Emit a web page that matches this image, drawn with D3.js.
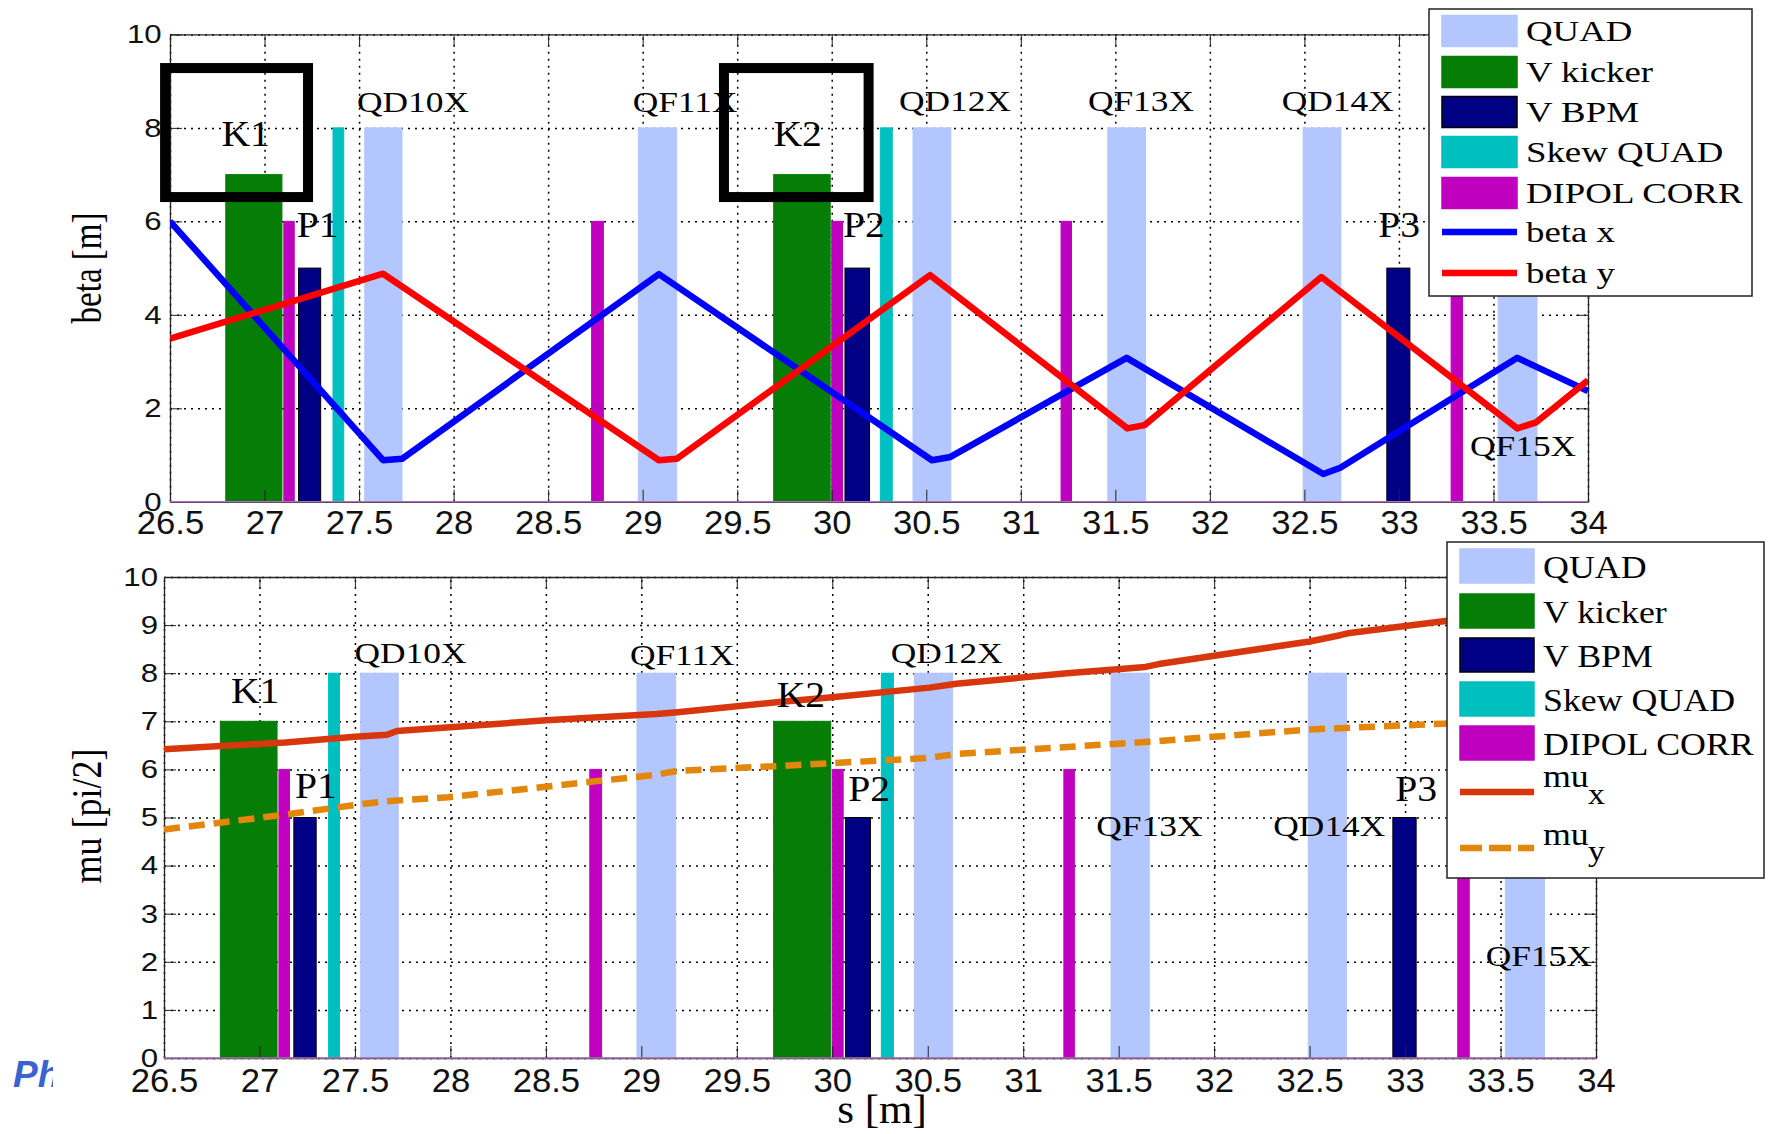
<!DOCTYPE html>
<html>
<head>
<meta charset="utf-8">
<script src="https://cdn.jsdelivr.net/npm/d3@7/dist/d3.min.js"></script>
<style>
  body { margin: 0; background: #fff; }
</style>
</head>
<body>
<svg id="chart" width="1772" height="1134"></svg>
<script>
// lattice elements, [start, end] along s [m]
var quadPos   = [[27.53, 27.727], [28.977, 29.18], [30.43, 30.63], [31.46, 31.66], [32.493, 32.693], [33.525, 33.73]];
var kickerPos = [[26.795, 27.092], [29.693, 29.992]];
var bpmPos    = [[27.18, 27.297], [30.07, 30.2], [32.936, 33.058]];
var skewPos   = [[27.362, 27.419], [30.257, 30.32]];
var dipolPos  = [[27.102, 27.157], [28.73, 28.792], [30.0, 30.057], [31.213, 31.268], [33.276, 33.336]];
var quadH = 8, kickerH = 7, bpmH = 5, skewH = 8, dipolH = 6;

// beta functions (top)
var betaXs = [26.5, 27.627, 27.727, 29.086, 30.53, 30.628, 31.56, 32.6, 32.69, 33.626, 34.0];
var betaX  = [6.0, 0.89, 0.92, 4.87, 0.89, 0.96, 3.08, 0.595, 0.73, 3.08, 2.37];
var betaYs = [26.5, 27.627, 29.086, 29.18, 30.52, 31.564, 31.654, 32.59, 33.626, 33.726, 34.0];
var betaY  = [3.49, 4.88, 0.89, 0.92, 4.85, 1.57, 1.64, 4.81, 1.57, 1.70, 2.6];

// phase advance (bottom)
var muXs = [26.5, 27.135, 27.5, 27.668, 27.72, 28.5, 29.08, 29.19, 29.72, 30.0, 30.51, 30.65, 31.23, 31.64, 31.71, 32.5, 32.66, 32.7, 33.2, 34.0];
var muX  = [6.42, 6.56, 6.68, 6.72, 6.80, 7.02, 7.15, 7.19, 7.40, 7.50, 7.70, 7.78, 8.0, 8.13, 8.19, 8.66, 8.79, 8.83, 9.08, 9.45];
var muYs = [26.5, 27.135, 27.5, 27.668, 27.988, 28.708, 29.08, 29.19, 29.72, 30.0, 30.51, 30.65, 31.64, 32.5, 33.2, 34.0];
var muY  = [4.75, 5.06, 5.26, 5.34, 5.42, 5.73, 5.89, 5.97, 6.07, 6.13, 6.24, 6.32, 6.57, 6.83, 6.95, 7.1];

// ticks
var sTicks = [26.5, 27, 27.5, 28, 28.5, 29, 29.5, 30, 30.5, 31, 31.5, 32, 32.5, 33, 33.5, 34];
var betaTicks = [0, 2, 4, 6, 8, 10];
var muTicks = [0, 1, 2, 3, 4, 5, 6, 7, 8, 9, 10];

// element labels: text, s, value
var topLabels = ['K1', 'K2', 'P1', 'P2', 'P3', 'QD10X', 'QF11X', 'QD12X', 'QF13X', 'QD14X', 'QF15X'];
var topLabelS = [26.90, 29.82, 27.17, 30.06, 32.89, 27.489, 28.947, 30.356, 31.355, 32.38, 33.376];
var topLabelV = [7.61, 7.61, 5.67, 5.67, 5.67, 8.33, 8.33, 8.36, 8.36, 8.36, 0.98];
var botLabels = topLabels;
var botLabelS = [26.977, 29.836, 27.186, 30.084, 32.948, 27.498, 28.94, 30.306, 31.383, 32.31, 33.422];
var botLabelV = [7.38, 7.30, 5.41, 5.35, 5.35, 8.21, 8.17, 8.21, 4.62, 4.62, 1.91];

// kicker highlight boxes (top)
var boxS = [[26.474, 27.23], [29.43, 30.195]];
var boxV = [6.52, 9.28];

var serif = '"Liberation Serif", "Times New Roman", serif';
var sans = '"Liberation Sans", Arial, sans-serif';

var elements = [
  {name: 'QUAD', pos: quadPos, h: quadH, fill: '#b3c6fd', edge: '#b3c6fd'},
  {name: 'V kicker', pos: kickerPos, h: kickerH, fill: '#067d06', edge: '#067d06'},
  {name: 'V BPM', pos: bpmPos, h: bpmH, fill: '#000085', edge: '#000'},
  {name: 'Skew QUAD', pos: skewPos, h: skewH, fill: '#00bfbf', edge: '#00bfbf'},
  {name: 'DIPOL CORR', pos: dipolPos, h: dipolH, fill: '#bf00bf', edge: '#bf00bf'}
];

var svg = d3.select('#chart');

function putText(g, txt, px, py, size, sx, anchor, family) {
  return g.append('text')
    .attr('transform', 'translate(' + px + ',' + py + ') scale(' + sx + ',1)')
    .attr('font-size', size)
    .attr('font-family', family || serif)
    .attr('text-anchor', anchor || 'start')
    .attr('fill', '#000')
    .text(txt);
}

function drawPanel(p) {
  var x = d3.scaleLinear().domain([26.5, 34]).range([p.left, p.right]);
  var y = d3.scaleLinear().domain([0, 10]).range([p.bottom, p.top]);
  var w = p.right - p.left, h = p.bottom - p.top;
  var g = svg.append('g');

  g.append('clipPath').attr('id', p.id + 'clip')
    .append('rect').attr('x', p.left).attr('y', p.top).attr('width', w).attr('height', h);

  // dotted grid
  g.append('g')
    .attr('transform', 'translate(0,' + p.bottom + ')')
    .call(d3.axisBottom(x).tickValues(sTicks).tickSize(-h).tickFormat(''))
    .call(function(s) { s.select('.domain').remove(); })
    .selectAll('line').attr('stroke', '#000').attr('stroke-width', 1.5).attr('stroke-dasharray', '2,5');
  g.append('g')
    .attr('transform', 'translate(' + p.left + ',0)')
    .call(d3.axisLeft(y).tickValues(p.yTicks).tickSize(-w).tickFormat(''))
    .call(function(s) { s.select('.domain').remove(); })
    .selectAll('line').attr('stroke', '#000').attr('stroke-width', 1.5).attr('stroke-dasharray', '2,5');

  // element bars
  elements.forEach(function(el) {
    g.selectAll(null).data(el.pos).enter().append('rect')
      .attr('x', function(d) { return x(d[0]); })
      .attr('width', function(d) { return x(d[1]) - x(d[0]); })
      .attr('y', y(el.h))
      .attr('height', y(0) - y(el.h))
      .attr('fill', el.fill)
      .attr('stroke', el.edge)
      .attr('stroke-width', 1);
  });

  // axes, ticks inward
  var bx = g.append('g').attr('transform', 'translate(0,' + p.bottom + ')')
    .call(d3.axisBottom(x).tickValues(sTicks).tickSizeInner(-12).tickSizeOuter(0)
      .tickPadding(p.xPad).tickFormat(d3.format('')));
  bx.selectAll('text').attr('font-size', 33).attr('font-family', sans).attr('fill', '#111')
    .attr('transform', 'scale(1.05,1)');
  var ly = g.append('g').attr('transform', 'translate(' + p.left + ',0)')
    .call(d3.axisLeft(y).tickValues(p.yTicks).tickSizeInner(-12).tickSizeOuter(0)
      .tickPadding(p.yPad));
  ly.selectAll('text').attr('font-size', 26).attr('font-family', sans).attr('fill', '#111')
    .attr('transform', 'scale(1.2,1)');
  g.append('g').attr('transform', 'translate(0,' + p.top + ')')
    .call(d3.axisTop(x).tickValues(sTicks).tickSizeInner(-12).tickSizeOuter(0).tickFormat(''));
  g.append('g').attr('transform', 'translate(' + p.right + ',0)')
    .call(d3.axisRight(y).tickValues(p.yTicks).tickSizeInner(-12).tickSizeOuter(0).tickFormat(''));
  g.selectAll('.domain').attr('stroke', '#222').attr('stroke-width', 1.3);
  g.selectAll('.tick line').filter(function() { return !this.getAttribute('stroke-dasharray'); })
    .attr('stroke', '#222');

  // bar baseline
  g.append('line')
    .attr('x1', x(26.5)).attr('x2', x(34)).attr('y1', y(0)).attr('y2', y(0))
    .attr('stroke', '#a874b4').attr('stroke-width', 1.5);

  // curves
  var line = d3.line().x(function(d) { return x(d[0]); }).y(function(d) { return y(d[1]); });
  p.curves.forEach(function(c) {
    g.append('path')
      .datum(d3.zip(c.s, c.v))
      .attr('clip-path', 'url(#' + p.id + 'clip)')
      .attr('d', line)
      .attr('fill', 'none')
      .attr('stroke', c.color)
      .attr('stroke-width', 6.5)
      .attr('stroke-linejoin', 'round')
      .attr('stroke-dasharray', c.dash || null);
  });

  // element labels
  p.labels.forEach(function(t, i) {
    var big = t[0] === 'K' || t[0] === 'P';
    putText(g, t, x(p.labelS[i]), y(p.labelV[i]), big ? 36 : 29, big ? 1.1 : 1.22, t[0] === 'K' ? 'middle' : 'start');
  });

  // highlight boxes
  (p.boxes || []).forEach(function(b) {
    g.append('rect')
      .attr('x', x(b[0])).attr('width', x(b[1]) - x(b[0]))
      .attr('y', y(boxV[1])).attr('height', y(boxV[0]) - y(boxV[1]))
      .attr('fill', 'none').attr('stroke', '#000').attr('stroke-width', 10);
  });

  // legend
  var L = p.legend;
  var lg = svg.append('g');
  lg.append('rect').attr('x', L.x).attr('y', L.y).attr('width', L.w).attr('height', L.h)
    .attr('fill', '#fff').attr('stroke', '#222').attr('stroke-width', 1.5);
  elements.forEach(function(el, i) {
    var cy = L.rows[i];
    lg.append('rect').attr('x', L.sx).attr('y', cy - L.sh / 2).attr('width', L.sw).attr('height', L.sh)
      .attr('fill', el.fill).attr('stroke', el.name === 'V BPM' ? '#000' : el.fill).attr('stroke-width', 1.5);
    putText(lg, el.name, L.tx, cy + L.base, L.fs, L.fsx);
  });
  p.curves.forEach(function(c, i) {
    var cy = L.rows[elements.length + i];
    lg.append('line').attr('x1', L.sx).attr('x2', L.sx + L.sw).attr('y1', cy).attr('y2', cy)
      .attr('stroke', c.color).attr('stroke-width', 6.5)
      .attr('stroke-dasharray', c.legendDash || null);
    if (c.sub) {
      putText(lg, c.name, L.tx, cy + c.nameDy, L.fs, L.fsx);
      putText(lg, c.sub, L.tx + 45, cy + c.subDy, L.fs - 2, L.fsx);
    } else {
      putText(lg, c.name, L.tx, cy + L.base, L.fs, L.fsx);
    }
  });
  return g;
}

drawPanel({
  id: 'top', left: 170, right: 1588, top: 34.4, bottom: 501.8,
  yTicks: betaTicks, xPad: 9, yPad: 7,
  curves: [
    {name: 'beta x', s: betaXs, v: betaX, color: '#0000ff'},
    {name: 'beta y', s: betaYs, v: betaY, color: '#ff0000'}
  ],
  labels: topLabels, labelS: topLabelS, labelV: topLabelV,
  boxes: boxS,
  legend: {x: 1429, y: 9, w: 323, h: 287, sx: 1442, sw: 75, sh: 31, tx: 1526, fs: 29, fsx: 1.27, base: 10,
    rows: [31, 72, 112, 152, 193, 232, 273]}
});

drawPanel({
  id: 'bot', left: 164, right: 1596, top: 577, bottom: 1058,
  yTicks: muTicks, xPad: 11, yPad: 5,
  curves: [
    {name: 'mu', sub: 'x', s: muXs, v: muX, color: '#d8370e', nameDy: -5, subDy: 12},
    {name: 'mu', sub: 'y', s: muYs, v: muY, color: '#e3860c', dash: '16,9', legendDash: '22,7', nameDy: -3, subDy: 13}
  ],
  labels: botLabels, labelS: botLabelS, labelV: botLabelV,
  legend: {x: 1447, y: 542, w: 317, h: 336, sx: 1460, sw: 74, sh: 34, tx: 1543, fs: 32, fsx: 1.12, base: 12,
    rows: [566, 611, 655, 699, 743, 792, 848]}
});

// axis titles
svg.append('text')
  .attr('transform', 'translate(101,268) rotate(-90) scale(1,1.25)')
  .attr('font-size', 33).attr('font-family', serif).attr('text-anchor', 'middle')
  .text('beta [m]');
svg.append('text')
  .attr('transform', 'translate(101,816) rotate(-90) scale(1,1.15)')
  .attr('font-size', 36).attr('font-family', serif).attr('text-anchor', 'middle')
  .text('mu [pi/2]');
putText(svg, 's [m]', 882, 1123, 41, 1.05, 'middle');

// slide text peeking out on the left
svg.append('clipPath').attr('id', 'phclip')
  .append('rect').attr('x', 0).attr('y', 1040).attr('width', 53).attr('height', 60);
svg.append('text')
  .attr('x', 13).attr('y', 1087)
  .attr('clip-path', 'url(#phclip)')
  .attr('font-size', 37).attr('font-weight', 'bold').attr('font-style', 'italic')
  .attr('font-family', sans).attr('fill', '#3a63cf')
  .text('Physics');
</script>
</body>
</html>
